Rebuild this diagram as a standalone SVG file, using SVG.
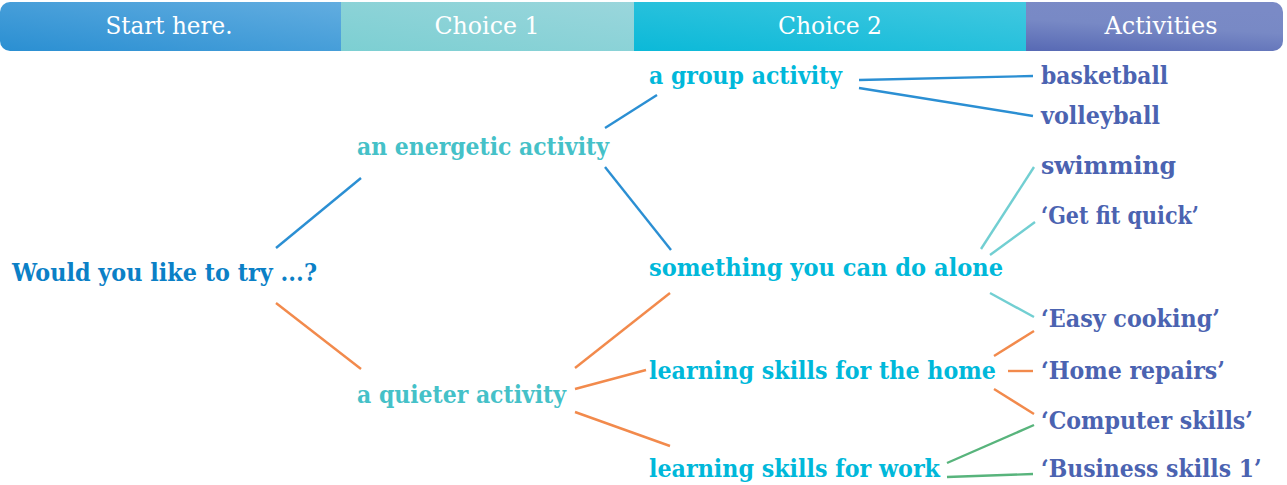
<svg xmlns="http://www.w3.org/2000/svg" width="1287" height="485" viewBox="0 0 1287 485">
<defs>
<linearGradient id="g1" x1="0" y1="1" x2="1" y2="0"><stop offset="0" stop-color="#2a8fd2"/><stop offset="1" stop-color="#62ade0"/></linearGradient>
<linearGradient id="g2" x1="0" y1="1" x2="1" y2="0"><stop offset="0" stop-color="#7ccfd2"/><stop offset="1" stop-color="#9ad6dc"/></linearGradient>
<linearGradient id="g3" x1="0" y1="1" x2="1" y2="0"><stop offset="0" stop-color="#0bb9d8"/><stop offset="1" stop-color="#42c8e0"/></linearGradient>
<linearGradient id="g4" x1="0" y1="1" x2="0.3" y2="0"><stop offset="0" stop-color="#5769b4"/><stop offset="0.6" stop-color="#7889c5"/><stop offset="1" stop-color="#7a8ac6"/></linearGradient>
<clipPath id="bar"><rect x="0" y="2" width="1283" height="49" rx="10"/></clipPath>
</defs>
<style>
.hd{font-family:"DejaVu Serif","Liberation Serif",serif;font-size:24px;fill:#ffffff;text-anchor:middle}
.t{font-family:"DejaVu Serif","Liberation Serif",serif;font-size:25px;font-weight:bold}
.q{fill:#0b80c6}
.c1{fill:#45c1c8}
.c2{fill:#00b8da}
.ac{fill:#4b63b1}
.cn line{stroke-width:2.4;stroke-linecap:butt;fill:none}
.b{stroke:#2b8fd3}
.o{stroke:#f28a4c}
.tl{stroke:#72cfd2}
.gr{stroke:#58b47c}
</style>
<g id="header" clip-path="url(#bar)">
<rect x="0" y="2" width="341" height="49" fill="url(#g1)"/>
<rect x="341" y="2" width="293" height="49" fill="url(#g2)"/>
<rect x="634" y="2" width="392" height="49" fill="url(#g3)"/>
<rect x="1026" y="2" width="257" height="49" fill="url(#g4)"/>
</g>
<g id="header-labels">
<text class="hd" x="169" y="34" textLength="127" lengthAdjust="spacingAndGlyphs">Start here.</text>
<text class="hd" x="487" y="34" textLength="105" lengthAdjust="spacingAndGlyphs">Choice 1</text>
<text class="hd" x="830" y="34" textLength="104" lengthAdjust="spacingAndGlyphs">Choice 2</text>
<text class="hd" x="1161" y="34" textLength="113" lengthAdjust="spacingAndGlyphs">Activities</text>
</g>
<g id="connectors" class="cn">
<line class="b" x1="276" y1="248" x2="361" y2="178"/>
<line class="o" x1="276" y1="303" x2="361" y2="369"/>
<line class="b" x1="605" y1="128" x2="657" y2="95"/>
<line class="b" x1="605" y1="167" x2="671" y2="250"/>
<line class="b" x1="859" y1="80" x2="1033" y2="76"/>
<line class="b" x1="859" y1="88" x2="1033" y2="116"/>
<line class="o" x1="575" y1="368" x2="670" y2="293"/>
<line class="o" x1="575" y1="389" x2="646" y2="370"/>
<line class="o" x1="575" y1="412" x2="670" y2="446"/>
<line class="tl" x1="981" y1="249" x2="1034" y2="167"/>
<line class="tl" x1="990" y1="255" x2="1035" y2="222"/>
<line class="tl" x1="990" y1="293" x2="1034" y2="317"/>
<line class="o" x1="994" y1="356" x2="1034" y2="331"/>
<line class="o" x1="1008" y1="371" x2="1033" y2="371"/>
<line class="o" x1="994" y1="389" x2="1034" y2="414"/>
<line class="gr" x1="947" y1="463" x2="1034" y2="425"/>
<line class="gr" x1="947" y1="477" x2="1033" y2="474"/>
</g>
<g id="n-start"><text class="t q" x="12" y="281" textLength="305" lengthAdjust="spacingAndGlyphs">Would you like to try ...?</text></g>
<g id="n-energetic"><text class="t c1" x="357" y="155" textLength="252" lengthAdjust="spacingAndGlyphs">an energetic activity</text></g>
<g id="n-quieter"><text class="t c1" x="357" y="403" textLength="209" lengthAdjust="spacingAndGlyphs">a quieter activity</text></g>
<g id="n-group"><text class="t c2" x="649" y="84" textLength="193" lengthAdjust="spacingAndGlyphs">a group activity</text></g>
<g id="n-alone"><text class="t c2" x="649" y="276" textLength="354" lengthAdjust="spacingAndGlyphs">something you can do alone</text></g>
<g id="n-home"><text class="t c2" x="649" y="379" textLength="347" lengthAdjust="spacingAndGlyphs">learning skills for the home</text></g>
<g id="n-work"><text class="t c2" x="649" y="477" textLength="291" lengthAdjust="spacingAndGlyphs">learning skills for work</text></g>
<g id="a-basketball"><text class="t ac" x="1041" y="84" textLength="127" lengthAdjust="spacingAndGlyphs">basketball</text></g>
<g id="a-volleyball"><text class="t ac" x="1041" y="124" textLength="119" lengthAdjust="spacingAndGlyphs">volleyball</text></g>
<g id="a-swimming"><text class="t ac" x="1041" y="174" textLength="135" lengthAdjust="spacingAndGlyphs">swimming</text></g>
<g id="a-getfit"><text class="t ac" x="1041" y="224" textLength="158" lengthAdjust="spacingAndGlyphs">‘Get fit quick’</text></g>
<g id="a-cooking"><text class="t ac" x="1041" y="327" textLength="179" lengthAdjust="spacingAndGlyphs">‘Easy cooking’</text></g>
<g id="a-repairs"><text class="t ac" x="1041" y="379" textLength="184" lengthAdjust="spacingAndGlyphs">‘Home repairs’</text></g>
<g id="a-computer"><text class="t ac" x="1041" y="429" textLength="212" lengthAdjust="spacingAndGlyphs">‘Computer skills’</text></g>
<g id="a-business"><text class="t ac" x="0" y="0" transform="translate(1041 477) scale(0.878 1)">‘Business skills 1’</text></g>
</svg>
